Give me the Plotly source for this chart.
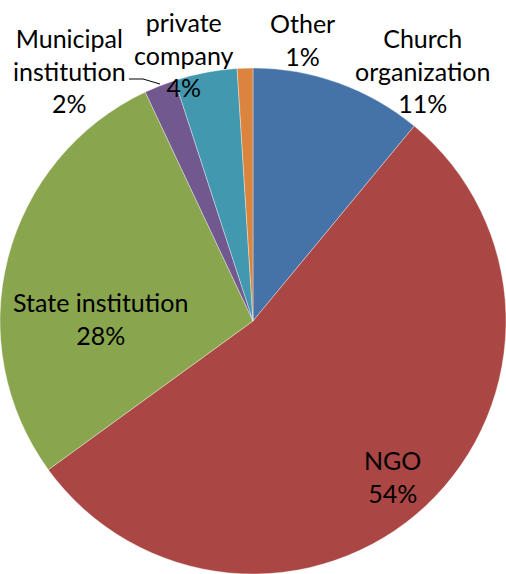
import plotly.graph_objects as go

categories = ["Church organization", "NGO", "State institution",
              "Municipal institution", "private company", "Other"]
values = [11, 54, 28, 2, 4, 1]
label_text = ["Church<br>organization<br>11%", "NGO<br>54%", "State institution<br>28%",
              "Municipal<br>institution<br>2%", "private<br>company<br>4%", "Other<br>1%"]
colors = ["#4572A7", "#AA4643", "#89A54E", "#71588F", "#4198AF", "#DB843D"]

W, H = 506, 574
# label centers in pixel space (layout, not data)
label_pos = [(422, 70), (392, 476), (100, 318), (69, 71), (184, 55), (302, 40)]

fig = go.Figure(go.Pie(
    labels=categories,
    values=values,
    sort=False,
    direction="clockwise",
    rotation=0,
    marker=dict(colors=colors, line=dict(color="rgba(255,255,255,0.6)", width=0.6)),
    textinfo="none",
    hoverinfo="label+percent",
    domain=dict(x=[0, 1], y=[0, 506 / 574]),
    showlegend=False,
))

font = dict(family="Lato, Liberation Sans, sans-serif", size=25, color="#000000")
for txt, (px, py) in zip(label_text, label_pos):
    fig.add_annotation(x=px / W, y=1 - py / H, xref="paper", yref="paper",
                       text=txt, showarrow=False, xanchor="center", yanchor="middle",
                       font=font, align="center")

# leader line for the Municipal institution label
fig.add_shape(type="path", xref="paper", yref="paper",
              path=f"M {129/W} {1-79/H} L {143/W} {1-79/H} L {160/W} {1-84/H}",
              line=dict(color="#000000", width=1))

fig.update_layout(width=W, height=H, margin=dict(l=0, r=0, t=0, b=0),
                  paper_bgcolor="white", plot_bgcolor="white")
fig.write_html("out.html", config={"displayModeBar": False},
               post_script="document.body.style.margin='0';document.body.style.padding='0';")
